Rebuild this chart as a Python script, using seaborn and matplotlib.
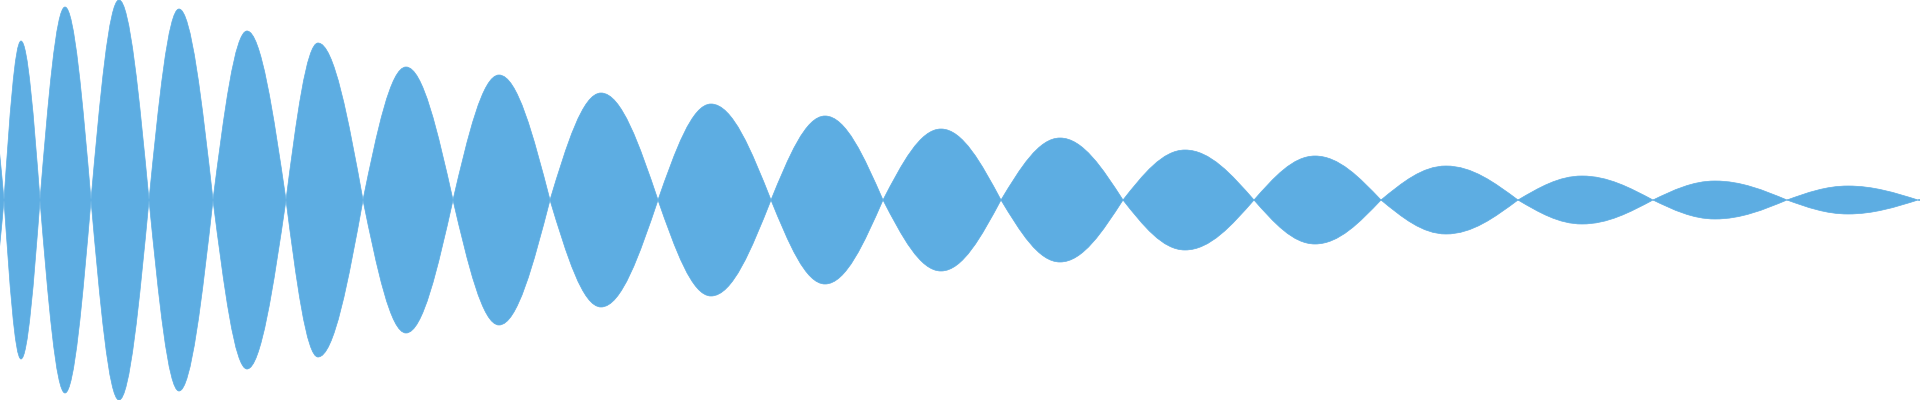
import matplotlib
matplotlib.use("Agg")
import matplotlib.pyplot as plt
from matplotlib.path import Path
from matplotlib.patches import PathPatch
import seaborn as sns

# zero crossings (x), lobe peaks (x) and lobe amplitudes
node_x = [-30, 4, 40, 91, 149, 213, 286, 363, 453, 550, 658, 771, 883,
          1001, 1123, 1254, 1381, 1518, 1653, 1787, 1918, 2050]
peak_x = [-13, 21, 65, 119, 179, 247, 318, 406, 499, 601, 711, 825, 941,
          1060, 1185, 1315, 1446, 1582, 1715, 1848, 1982]
amp = [120, 159, 193, 200, 191, 169, 157, 133, 125, 107, 96, 84, 71,
       62, 50, 44, 34, 24, 19, 14, 10]

fill_color = "#5dade2"

sns.set_theme(style="white")

fig = plt.figure(figsize=(19.2, 4), dpi=100)
ax = fig.add_axes([0, 0, 1, 1])

# quarter-sine bezier handles
K1, K2, KY = 0.3261, 0.6381, 0.5123


def half(x0, x1, h, sign):
    # control points from node x0 to peak x1 (or back), height h
    w = x1 - x0
    return [(x0 + K1 * w, sign * KY * h), (x0 + K2 * w, sign * h), (x1, sign * h)]


for i in range(len(amp)):
    xa, xp, xb, h = node_x[i], peak_x[i], node_x[i + 1], amp[i]
    verts = [(xa, 0)]
    verts += half(xa, xp, h, 1)
    # going down from peak to node: mirror of the rise
    w = xb - xp
    verts += [(xb - K2 * w, h), (xb - K1 * w, KY * h), (xb, 0)]
    # bottom side, right to left
    verts += [(xb - K1 * w, -KY * h), (xb - K2 * w, -h), (xp, -h)]
    w1 = xp - xa
    verts += [(xa + K2 * w1, -h), (xa + K1 * w1, -KY * h), (xa, 0)]
    codes = [Path.MOVETO] + [Path.CURVE4] * 12
    ax.add_patch(PathPatch(Path(verts, codes), facecolor=fill_color,
                           edgecolor=fill_color, linewidth=0.5))

ax.set_xlim(0, 1920)
ax.set_ylim(-200, 200)
ax.axis("off")

fig.savefig("out.png", dpi=100, facecolor="white")
